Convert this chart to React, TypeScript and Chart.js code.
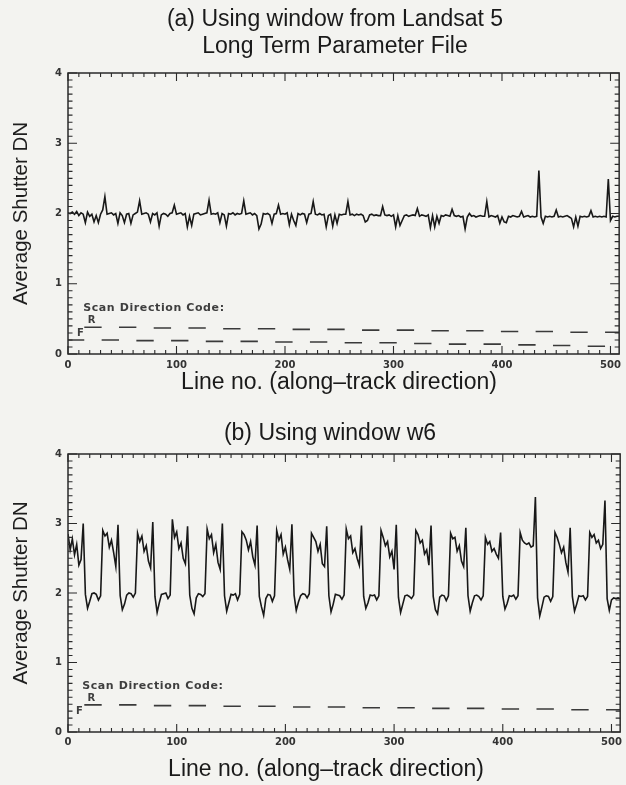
import React, { useEffect, useRef } from 'react';
import { Chart, registerables } from 'chart.js';

Chart.register(...registerables);

// ---- data -------------------------------------------------------------
// sampled line numbers (every 2nd line, 0..508)
const LINES: number[] = Array.from({ length: 255 }, (_, i) => i * 2);

// (a) Average shutter DN, Landsat 5 LTPF window (one row = one 32-line scan pair)
const shutterA: number[] = [
  2.01, 2.00, 2.02, 1.99, 2.03, 1.97, 2.01, 1.99, 1.87, 2.02, 1.96, 1.99, 1.88, 1.97, 1.87, 1.99,
  2.05, 2.24, 1.99, 2.00, 2.01, 1.98, 2.00, 1.86, 2.01, 1.97, 1.87, 1.99, 2.00, 1.86, 1.98, 2.00,
  2.02, 2.18, 1.99, 2.00, 2.01, 1.99, 1.88, 2.00, 1.98, 2.01, 1.82, 1.98, 2.00, 1.99, 1.96, 2.00,
  2.01, 2.12, 1.99, 2.00, 2.01, 1.98, 2.00, 1.81, 1.96, 1.83, 1.99, 2.00, 2.01, 1.98, 1.99, 2.00,
  2.01, 2.19, 1.99, 2.00, 1.99, 2.01, 1.87, 2.00, 1.98, 1.82, 2.00, 1.99, 2.01, 1.98, 2.00, 1.99,
  2.00, 2.18, 1.99, 2.00, 2.01, 1.98, 2.00, 1.97, 1.78, 1.85, 2.00, 1.99, 2.00, 1.98, 1.86, 1.99,
  2.00, 2.12, 1.99, 2.00, 1.99, 2.01, 1.84, 1.99, 1.90, 1.83, 2.00, 1.98, 2.00, 1.99, 1.87, 1.99,
  2.00, 2.17, 1.99, 1.98, 2.00, 1.98, 1.99, 1.81, 1.97, 1.99, 1.82, 1.98, 1.86, 1.99, 1.98, 1.99,
  1.99, 2.17, 1.98, 1.99, 1.97, 1.99, 1.98, 1.99, 1.97, 1.88, 1.90, 1.98, 1.99, 1.97, 1.98, 1.97,
  1.97, 2.10, 1.98, 1.97, 1.98, 1.96, 1.98, 1.81, 1.97, 1.83, 1.90, 1.97, 1.98, 1.96, 1.97, 1.98,
  1.97, 2.07, 1.96, 1.98, 1.97, 1.96, 1.98, 1.80, 1.97, 1.81, 1.96, 1.86, 1.97, 1.96, 1.98, 1.97,
  1.96, 2.06, 1.97, 1.96, 1.97, 1.95, 1.96, 1.78, 1.95, 2.00, 1.96, 1.97, 1.95, 1.96, 1.97, 1.96,
  1.96, 2.17, 1.95, 1.97, 1.96, 1.95, 1.97, 1.86, 1.95, 1.88, 1.87, 1.96, 1.95, 1.97, 1.96, 1.95,
  1.96, 2.03, 1.95, 1.96, 1.97, 1.95, 1.96, 1.95, 1.96, 2.61, 1.95, 1.86, 1.96, 1.95, 1.96, 1.95,
  1.96, 2.05, 1.95, 1.96, 1.95, 1.96, 1.97, 1.95, 1.93, 1.81, 1.95, 1.82, 1.96, 1.95, 1.96, 1.95,
  1.96, 2.04, 1.95, 1.96, 1.95, 1.96, 1.95, 1.96, 1.95, 2.49, 1.90, 1.96, 1.95, 1.96, 1.96,
];

// (b) Average shutter DN, window w6
const shutterB: number[] = [
  2.85, 2.62, 2.78, 2.55, 2.70, 2.40, 2.48, 3.00, 1.98, 1.78, 1.88, 1.99, 2.00, 1.98, 1.90, 1.96,
  2.90, 2.82, 2.86, 2.66, 2.76, 2.58, 2.38, 2.98, 1.96, 1.76, 1.84, 1.97, 2.00, 1.99, 1.94, 2.00,
  2.86, 2.74, 2.82, 2.60, 2.68, 2.46, 2.36, 3.02, 1.95, 1.72, 1.86, 1.98, 1.99, 2.00, 1.92, 1.97,
  3.06, 2.80, 2.88, 2.64, 2.72, 2.50, 2.42, 2.96, 1.97, 1.78, 1.70, 1.93, 1.99, 1.98, 1.95, 1.99,
  2.92, 2.78, 2.84, 2.58, 2.70, 2.44, 2.34, 3.00, 1.96, 1.74, 1.86, 1.98, 1.97, 1.99, 1.90, 1.98,
  2.88, 2.84, 2.76, 2.62, 2.74, 2.52, 2.40, 2.97, 1.95, 1.80, 1.68, 1.92, 1.98, 1.97, 1.88, 1.96,
  2.90, 2.76, 2.84, 2.56, 2.66, 2.48, 2.34, 2.99, 1.97, 1.75, 1.87, 1.96, 1.99, 1.98, 1.93, 1.99,
  2.86, 2.80, 2.74, 2.60, 2.70, 2.42, 2.38, 2.96, 1.96, 1.73, 1.84, 1.98, 1.97, 1.96, 1.91, 1.97,
  2.92, 2.78, 2.82, 2.58, 2.64, 2.50, 2.40, 2.97, 1.95, 1.78, 1.86, 1.97, 1.96, 1.97, 1.90, 1.96,
  2.90, 2.80, 2.68, 2.74, 2.52, 2.60, 2.34, 2.98, 1.94, 1.72, 1.84, 1.96, 1.97, 1.95, 1.92, 1.97,
  2.90, 2.84, 2.72, 2.76, 2.56, 2.62, 2.40, 2.97, 1.95, 1.76, 1.70, 1.94, 1.97, 1.96, 1.89, 1.96,
  2.86, 2.78, 2.80, 2.60, 2.68, 2.46, 2.38, 2.94, 1.96, 1.74, 1.86, 1.96, 1.97, 1.95, 1.90, 1.96,
  2.80, 2.70, 2.74, 2.60, 2.64, 2.56, 2.50, 2.87, 1.95, 1.77, 1.85, 1.96, 1.95, 1.97, 1.91, 1.96,
  2.87, 2.76, 2.72, 2.70, 2.72, 2.66, 2.68, 3.38, 1.93, 1.67, 1.80, 1.94, 1.96, 1.95, 1.88, 1.95,
  2.87, 2.80, 2.70, 2.58, 2.66, 2.44, 2.30, 2.94, 1.95, 1.74, 1.84, 1.96, 1.95, 1.96, 1.90, 1.95,
  2.87, 2.80, 2.84, 2.72, 2.76, 2.64, 2.70, 3.33, 1.92, 1.75, 1.90, 1.93, 1.92, 1.93, 1.92,
];

// scan boundaries (line numbers); scans alternate F, R, F, R ...
const scanEdges: number[] = [
  0, 15, 31, 47, 63, 79, 95, 111, 127, 143, 159, 175, 191, 207, 223, 239, 255,
  271, 287, 303, 319, 335, 351, 367, 383, 399, 415, 431, 447, 463, 479, 495, 508,
];
// scan direction code level per scan (F, R alternating)
const scanCodeA: (number | null)[] = [
  0.20, 0.38, 0.20, 0.38, 0.19, 0.37, 0.19, 0.37, 0.18, 0.36, 0.18, 0.36, 0.17, 0.35, 0.17, 0.35,
  0.16, 0.34, 0.16, 0.34, 0.15, 0.33, 0.14, 0.33, 0.14, 0.32, 0.13, 0.32, 0.12, 0.31, 0.11, 0.31,
];
const scanCodeB: (number | null)[] = [
  null, 0.39, null, 0.39, null, 0.38, null, 0.38, null, 0.37, null, 0.37, null, 0.36, null, 0.36,
  null, 0.35, null, 0.35, null, 0.34, null, 0.34, null, 0.33, null, 0.33, null, 0.32, null, 0.32,
];

const xTickValues: number[] = [0, 100, 200, 300, 400, 500];
const yTickValues: number[] = [0, 1, 2, 3, 4];
const X_MAX = 508;
const Y_MAX = 4;

// ---- plugin: IDL-style frame with inward ticks and in-plot annotations ----
const idlFrame = {
  id: 'idlFrame',
  afterDatasetsDraw(chart: any, _args: any, opts: any) {
    const { ctx, chartArea: a, scales } = chart;
    const x = scales.x;
    const y = scales.y;
    ctx.save();
    ctx.strokeStyle = '#2a2a2a';
    ctx.lineWidth = 1.5;
    ctx.strokeRect(a.left, a.top, a.right - a.left, a.bottom - a.top);
    ctx.lineWidth = 1.1;
    ctx.beginPath();
    for (let k = 0; k <= Y_MAX * 10; k++) {
      const py = y.getPixelForValue(k / 10);
      const len = k % 10 === 0 ? 9 : 4.5;
      ctx.moveTo(a.left, py);
      ctx.lineTo(a.left + len, py);
      ctx.moveTo(a.right, py);
      ctx.lineTo(a.right - len, py);
    }
    for (let k = 0; k * 10 <= X_MAX; k++) {
      const px = x.getPixelForValue(k * 10);
      const len = k % 10 === 0 ? 8 : 4;
      ctx.moveTo(px, a.bottom);
      ctx.lineTo(px, a.bottom - len);
      ctx.moveTo(px, a.top);
      ctx.lineTo(px, a.top + len);
    }
    ctx.stroke();
    for (const n of opts.notes || []) {
      ctx.font = n.font;
      ctx.fillStyle = '#3e3e3e';
      ctx.textAlign = n.align || 'left';
      ctx.textBaseline = 'middle';
      (ctx as any).letterSpacing = n.spacing || '0px';
      ctx.fillText(n.text, x.getPixelForValue(n.x), y.getPixelForValue(n.y));
    }
    (ctx as any).letterSpacing = '0px';
    ctx.restore();
  },
};

function codePoints(codes: (number | null)[]) {
  const pts: { x: number; y: number | null }[] = [];
  codes.forEach((v, i) => {
    pts.push({ x: scanEdges[i], y: v }, { x: scanEdges[i + 1], y: v });
  });
  return pts;
}

const tickFont = { family: '"DejaVu Sans", Verdana, sans-serif', size: 10, weight: 'bold' as const };

function makeConfig(values: number[], codes: (number | null)[], notes: any[], padTop: number, xAxisH: number, xTickPad: number): any {
  return {
    type: 'line',
    data: {
      datasets: [
        {
          data: LINES.map((l, i) => ({ x: l, y: values[i] })),
          borderColor: '#181818',
          borderWidth: 1.6,
          pointRadius: 0,
          tension: 0,
        },
        {
          data: codePoints(codes),
          borderColor: '#3a3a3a',
          borderWidth: 1.6,
          pointRadius: 0,
          tension: 0,
          spanGaps: false,
          segment: {
            borderColor: (c: any) => (c.p0.parsed.x === c.p1.parsed.x ? 'rgba(0,0,0,0)' : undefined),
          },
        },
      ],
    },
    options: {
      responsive: false,
      animation: false,
      events: [],
      layout: { padding: { top: padTop, right: 5, left: 0, bottom: 0 } },
      plugins: {
        legend: { display: false },
        tooltip: { enabled: false },
        idlFrame: { notes },
      },
      scales: {
        x: {
          type: 'linear',
          min: 0,
          max: X_MAX,
          afterFit: (s: any) => { s.height = xAxisH; },
          afterBuildTicks: (s: any) => { s.ticks = xTickValues.map((v) => ({ value: v })); },
          grid: { display: false, drawTicks: false },
          border: { display: false },
          ticks: { padding: xTickPad, font: tickFont, color: '#333', maxRotation: 0, autoSkip: false, callback: (v: number) => String(v) },
        },
        y: {
          type: 'linear',
          min: 0,
          max: Y_MAX,
          afterFit: (s: any) => { s.width = 68; },
          afterBuildTicks: (s: any) => { s.ticks = yTickValues.map((v) => ({ value: v })); },
          grid: { display: false, drawTicks: false },
          border: { display: false },
          ticks: { padding: 6, font: tickFont, color: '#333', autoSkip: false, callback: (v: number) => String(v) },
          title: {
            display: true,
            text: 'Average Shutter DN',
            font: { family: '"Liberation Sans", Arial, sans-serif', size: 20.5 },
            color: '#1e1e1e',
            padding: { top: 9, bottom: 0 },
          },
        },
      },
    },
    plugins: [idlFrame],
  };
}

const codeFont = 'bold 11px "DejaVu Sans", Verdana, sans-serif';
const letterFont = 'bold 10px "DejaVu Sans", Verdana, sans-serif';

const notesA = [
  { text: 'Scan Direction Code:', x: 14, y: 0.655, font: codeFont, spacing: '0.6px' },
  { text: 'R', x: 21.7, y: 0.485, font: letterFont, align: 'center' },
  { text: 'F', x: 11.5, y: 0.3, font: letterFont, align: 'center' },
];
const notesB = [
  { text: 'Scan Direction Code:', x: 13, y: 0.66, font: codeFont, spacing: '0.6px' },
  { text: 'R', x: 21.5, y: 0.49, font: letterFont, align: 'center' },
  { text: 'F', x: 10.5, y: 0.3, font: letterFont, align: 'center' },
];

const titleFont = '23px "Liberation Sans", Arial, sans-serif';

export default function App() {
  const refA = useRef<HTMLCanvasElement>(null);
  const refB = useRef<HTMLCanvasElement>(null);

  useEffect(() => {
    const a = new Chart(refA.current as HTMLCanvasElement, makeConfig(shutterA, scanCodeA, notesA, 73, 46, 5));
    const b = new Chart(refB.current as HTMLCanvasElement, makeConfig(shutterB, scanCodeB, notesB, 54, 53, 4));
    return () => {
      a.destroy();
      b.destroy();
    };
  }, []);

  const text = (extra: React.CSSProperties): React.CSSProperties => ({
    position: 'absolute',
    textAlign: 'center',
    font: titleFont,
    lineHeight: '27px',
    color: '#1a1a1a',
    whiteSpace: 'nowrap',
    ...extra,
  });

  return (
    <div style={{ position: 'absolute', left: 0, top: 0, width: 626, height: 785, background: '#f3f3f0', overflow: 'hidden' }}>
      <canvas ref={refA} width={626} height={400} style={{ position: 'absolute', left: 0, top: 0, width: 626, height: 400 }} />
      <canvas ref={refB} width={626} height={385} style={{ position: 'absolute', left: 0, top: 400, width: 626, height: 385 }} />
      <div style={text({ left: 35, width: 600, top: 5 })}>
        (a) Using window from Landsat 5<br />Long Term Parameter File
      </div>
      <div style={text({ left: 39, width: 600, top: 368 })}>Line no. (along–track direction)</div>
      <div style={text({ left: 30, width: 600, top: 419 })}>(b) Using window w6</div>
      <div style={text({ left: 26, width: 600, top: 755 })}>Line no. (along–track direction)</div>
    </div>
  );
}
